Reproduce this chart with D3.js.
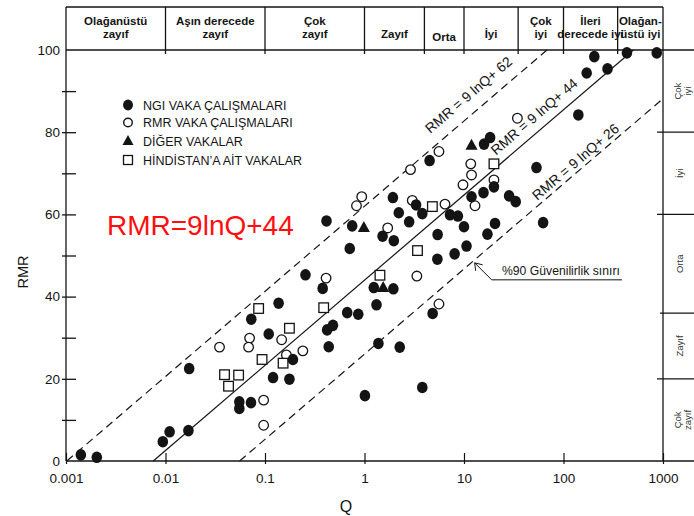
<!DOCTYPE html>
<html>
<head>
<meta charset="utf-8">
<script src="https://cdn.jsdelivr.net/npm/d3@7/dist/d3.min.js"></script>
<style>
  html, body { margin: 0; padding: 0; background: #fff; }
  svg { display: block; font-family: "Liberation Sans", Arial, sans-serif; }
</style>
</head>
<body>
<svg id="chart" width="694" height="516"></svg>
<script>
// ---- data: [Q, RMR] pairs per case group ----
const ngiCases = [
  [0.00141, 1.5], [0.00204, 0.9], [0.0094, 4.7], [0.011, 7.1], [0.017, 7.4], [0.0173, 22.5],
  [0.0552, 12.8], [0.0552, 14.4], [0.0723, 14.2], [0.0728, 34.5], [0.109, 30.9], [0.1205, 20.3],
  [0.137, 38.4], [0.176, 19.9], [0.191, 24.7], [0.255, 45.3], [0.38, 42.0], [0.421, 31.9],
  [0.482, 33.0], [0.437, 27.8], [0.415, 58.4], [0.752, 57.2], [0.711, 51.7], [0.67, 36.1],
  [0.865, 35.7], [1.01, 15.9], [1.24, 42.2], [1.32, 38.0], [1.38, 28.6], [1.52, 54.7],
  [1.95, 41.9], [1.97, 53.6], [1.93, 64.1], [2.21, 60.4], [2.26, 27.7], [2.81, 58.2],
  [3.3, 62.3], [3.81, 60.2], [3.81, 17.9], [4.84, 35.9], [4.51, 73.1], [5.43, 55.1],
  [5.4, 49.1], [7.23, 59.9], [8.69, 59.6], [10.0, 57.0], [8.05, 50.4], [10.6, 52.3],
  [11.9, 64.3], [15.7, 65.3], [15.9, 77.1], [18.3, 78.7], [20.0, 66.7], [20.5, 57.8],
  [17.2, 55.2], [28.4, 64.5], [33.1, 63.1], [53.5, 71.4], [62.4, 58.0], [141, 84.2],
  [171, 94.4], [204, 98.4], [277, 95.4], [434, 99.3], [865, 99.3]
];
const rmrCases = [
  [0.0349, 27.7], [0.07, 29.9], [0.0684, 27.7], [0.0969, 14.8], [0.0969, 8.7], [0.147, 29.5],
  [0.164, 25.8], [0.24, 26.8], [0.411, 44.5], [0.831, 62.1], [0.938, 64.3], [1.71, 56.7],
  [2.9, 70.9], [3.02, 63.4], [3.36, 45.0], [5.6, 75.3], [5.6, 38.2], [6.44, 62.5],
  [9.77, 67.2], [11.7, 72.3], [11.9, 69.6], [12.9, 62.1], [20.0, 68.4], [34.4, 83.4]
];
const otherCases = [[0.985, 56.8], [1.54, 42.2], [11.9, 76.8]];
const indiaCases = [
  [0.0392, 21.0], [0.0543, 20.9], [0.043, 18.2], [0.0863, 37.1], [0.0934, 24.7], [0.152, 23.8],
  [0.176, 32.3], [0.389, 37.3], [1.43, 45.2], [3.41, 51.2], [4.81, 61.9], [20.0, 72.3]
];

const legendLabels = ["NGI VAKA ÇALIŞMALARI", "RMR VAKA ÇALIŞMALARI", "DİĞER VAKALAR", "HİNDİSTAN’A AİT VAKALAR"];

// correlation RMR = 9 lnQ + c
const fitCoef = 9;
const fitIntercepts = [62, 44, 26];
const fitLabels = ["RMR = 9 lnQ+ 62", "RMR = 9 lnQ+ 44", "RMR = 9 lnQ+ 26"];
const fitNote = "RMR=9lnQ+44";
const confidenceNote = "%90 Güvenilirlik sınırı";

// axes
const xTickValues = [0.001, 0.01, 0.1, 1, 10, 100, 1000];
const xTickLabels = ["0.001", "0.01", "0.1", "1", "10", "100", "1000"];
const yTickValues = [0, 20, 40, 60, 80, 100];
const yMinorTicks = [10, 20, 30, 40, 50, 60, 70, 80, 90];

// rock mass classes
const qClassBounds = [0.001, 0.01, 0.1, 1, 4, 10, 35, 100, 350, 1000];
const qClassLabels = [["Olağanüstü", "zayıf"], ["Aşın derecede", "zayıf"], ["Çok", "zayıf"], ["Zayıf"], ["Orta"],
                      ["İyi"], ["Çok", "iyi"], ["İleri", "derecede iyi"], ["Olağan-", "üstü iyi"]];
const rmrClassBounds = [0, 20, 36, 60, 80, 100];
const rmrClassLabels = [["Çok", "zayıf"], ["Zayıf"], ["Orta"], ["İyi"], ["Çok", "iyi"]];

// ---- drawing ----
const W = 694, H = 516;
const ink = "#141414";
const svg = d3.select("#chart");
const x = d3.scaleLog().domain([0.001, 1000]).range([66, 663]);
const y = d3.scaleLinear().domain([0, 100]).range([461, 50]);
const hdrTop = 7;

// frame and class boxes
const frame = svg.append("g").attr("stroke", ink).attr("stroke-width", 1.3).attr("fill", "none");
const seg = (x1, y1, x2, y2) => frame.append("line").attr("x1", x1).attr("y1", y1).attr("x2", x2).attr("y2", y2);
seg(x(0.001), hdrTop, x(1000), hdrTop);
seg(x(0.001), hdrTop, x(0.001), y(0));
seg(x(1000), hdrTop, x(1000), y(0));
seg(x(0.001), y(100), W, y(100));
seg(x(0.001), y(0), W, y(0));
qClassBounds.slice(1, -1).forEach(b => seg(x(b), hdrTop, x(b), y(100) + 4));
rmrClassBounds.slice(1, -1).forEach((b, i) => seg(x(1000) - (i === 1 ? 3 : 6), y(b), W, y(b)));

// Q class labels (top)
const hdr = svg.append("g")
  .attr("font-family", "'Liberation Sans Narrow', 'Liberation Sans', Arial, sans-serif")
  .attr("font-weight", "bold").attr("font-size", 11.5).attr("fill", ink).attr("text-anchor", "middle");
qClassLabels.forEach((lines, i) => {
  const cx = (x(qClassBounds[i]) + x(qClassBounds[i + 1])) / 2;
  if (lines.length === 2) {
    hdr.append("text").attr("x", cx).attr("y", 25).text(lines[0]);
    hdr.append("text").attr("x", cx).attr("y", 37.5).text(lines[1]);
  } else {
    hdr.append("text").attr("x", cx).attr("y", lines[0] === "Orta" ? 41 : 37.5).text(lines[0]);
  }
});

// RMR class labels (right)
const side = svg.append("g").attr("font-size", 9.5).attr("fill", "#333").attr("text-anchor", "middle");
rmrClassLabels.forEach((lines, i) => {
  const cy = (y(rmrClassBounds[i]) + y(rmrClassBounds[i + 1])) / 2;
  if (lines.length === 2) {
    side.append("text").attr("transform", `translate(680.5,${cy}) rotate(-90)`).text(lines[0]);
    side.append("text").attr("transform", `translate(691,${cy}) rotate(-90)`).text(lines[1]);
  } else {
    side.append("text").attr("transform", `translate(683,${cy}) rotate(-90)`).text(lines[0]);
  }
});

// x axis
const xAxis = svg.append("g").attr("transform", `translate(0,${y(0)})`)
  .call(d3.axisBottom(x).tickValues(xTickValues).tickFormat((d, i) => xTickLabels[i]).tickSizeInner(8).tickPadding(4));
xAxis.select(".domain").remove();
xAxis.selectAll(".tick line").attr("y1", -8).attr("y2", 3).attr("stroke", ink).attr("stroke-width", 1.2);
xAxis.selectAll(".tick text").attr("font-size", 13.5).attr("font-family", "'Liberation Sans', Arial, sans-serif").attr("fill", ink);

// y axis
const yMinor = svg.append("g").attr("transform", `translate(${x(0.001)},0)`)
  .call(d3.axisLeft(y).tickValues(yMinorTicks).tickFormat("").tickSizeInner(0));
yMinor.select(".domain").remove();
yMinor.selectAll(".tick line").attr("x1", -4).attr("x2", 10).attr("stroke", ink).attr("stroke-width", 1.3);

const yAxis = svg.append("g").attr("transform", `translate(${x(0.001)},0)`)
  .call(d3.axisLeft(y).tickValues(yTickValues).tickFormat(d3.format("d")).tickSize(0).tickPadding(6));
yAxis.select(".domain").remove();
yAxis.selectAll(".tick text").attr("font-size", 13.5).attr("font-family", "'Liberation Sans', Arial, sans-serif").attr("fill", ink);

// axis titles
svg.append("text").attr("x", 346).attr("y", 512).attr("text-anchor", "middle")
  .attr("font-size", 16).attr("fill", ink).text("Q");
svg.append("text").attr("transform", "translate(28,272) rotate(-90)").attr("text-anchor", "middle")
  .attr("font-size", 14.5).attr("fill", ink).text("RMR");

// fit lines
const fitRMR = (q, c) => fitCoef * Math.log(q) + c;
const qAt = (r, c) => Math.exp((r - c) / fitCoef);
const line = d3.line().x(d => x(d[0])).y(d => y(d[1]));
const fits = svg.append("g").attr("fill", "none").attr("stroke", ink).attr("stroke-width", 1.2);
fitIntercepts.forEach((c, i) => {
  const q0 = Math.max(0.001, qAt(0, c)), q1 = Math.min(1000, qAt(100, c));
  fits.append("path")
    .attr("d", line([[q0, fitRMR(q0, c)], [q1, fitRMR(q1, c)]]))
    .attr("stroke-dasharray", i === 1 ? null : "8,5");
});

// fit line labels, written along each line
const labelQ = [5.5, 24, 58];
const labelOffset = [-12, -9, -4];
fitIntercepts.forEach((c, i) => {
  const q = labelQ[i];
  const px = x(q), py = y(fitRMR(q, c));
  const ang = Math.atan2(y(fitRMR(q * 10, c)) - py, x(q * 10) - px) * 180 / Math.PI;
  svg.append("text").attr("transform", `translate(${px},${py}) rotate(${ang}) translate(0,${labelOffset[i]})`)
    .attr("font-size", 14).attr("fill", ink).text(fitLabels[i]);
});

// confidence limit callout
const tipQ = 12.8, tipR = fitRMR(tipQ, 26);
const tx = x(tipQ), ty = y(tipR);
const call = svg.append("g").attr("stroke", ink).attr("stroke-width", 1).attr("fill", "none");
call.append("path").attr("d", `M${tx},${ty + 3} L${tx + 17},${ty + 20} H622`);
call.append("path").attr("d", `M${tx + 1},${ty + 11} L${tx},${ty + 3} L${tx + 8},${ty + 5}`);
svg.append("text").attr("x", 502).attr("y", ty + 15.5).attr("font-size", 12.2).attr("fill", ink).text(confidenceNote);

// red annotation
svg.append("text").attr("x", 107).attr("y", 235).attr("font-size", 28).attr("fill", "#ff1010").text(fitNote);

// markers
const triPath = s => `M0,${-s * 0.6}L${s * 0.55},${s * 0.4}L${-s * 0.55},${s * 0.4}Z`;
const marks = svg.append("g");
marks.selectAll(".rmr").data(rmrCases).join("circle")
  .attr("cx", d => x(d[0])).attr("cy", d => y(d[1])).attr("r", 4.8)
  .attr("fill", "#fff").attr("stroke", ink).attr("stroke-width", 1.3);
marks.selectAll(".ind").data(indiaCases).join("rect")
  .attr("x", d => x(d[0]) - 4.8).attr("y", d => y(d[1]) - 4.8).attr("width", 9.6).attr("height", 9.6)
  .attr("fill", "#fff").attr("stroke", ink).attr("stroke-width", 1.3);
marks.selectAll(".ngi").data(ngiCases).join("ellipse")
  .attr("cx", d => x(d[0])).attr("cy", d => y(d[1])).attr("rx", 5.3).attr("ry", 5.8)
  .attr("fill", ink);
marks.selectAll(".oth").data(otherCases).join("path")
  .attr("transform", d => `translate(${x(d[0])},${y(d[1])})`).attr("d", triPath(11)).attr("fill", ink);

// legend
const lg = svg.append("g").attr("transform", "translate(128,0)");
const legY = [105, 122.5, 141, 160];
lg.append("ellipse").attr("cx", 0).attr("cy", legY[0]).attr("rx", 5).attr("ry", 5.4).attr("fill", ink);
lg.append("circle").attr("cx", 0).attr("cy", legY[1]).attr("r", 4.3).attr("fill", "#fff").attr("stroke", ink).attr("stroke-width", 1.4);
lg.append("path").attr("transform", `translate(0,${legY[2]})`).attr("d", triPath(10)).attr("fill", ink);
lg.append("rect").attr("x", -4.5).attr("y", legY[3] - 4.5).attr("width", 9).attr("height", 9)
  .attr("fill", "#fff").attr("stroke", ink).attr("stroke-width", 1.3);
legendLabels.forEach((t, i) => {
  lg.append("text").attr("x", 15).attr("y", legY[i] + 4.5).attr("font-size", 12.5).attr("fill", ink).text(t);
});
</script>
</body>
</html>
